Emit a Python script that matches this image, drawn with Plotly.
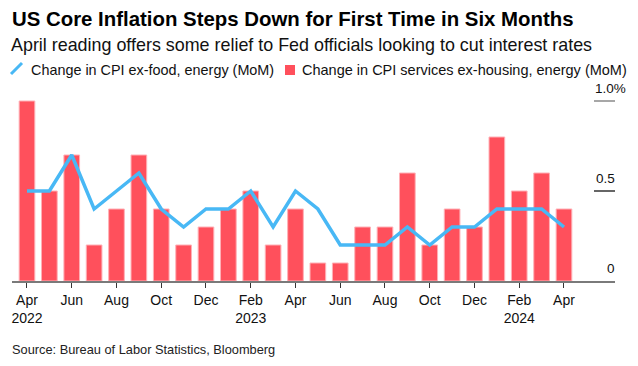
import plotly.graph_objects as go

# ---- data ----
months = ["2022-04", "2022-05", "2022-06", "2022-07", "2022-08", "2022-09", "2022-10",
          "2022-11", "2022-12", "2023-01", "2023-02", "2023-03", "2023-04", "2023-05",
          "2023-06", "2023-07", "2023-08", "2023-09", "2023-10", "2023-11", "2023-12",
          "2024-01", "2024-02", "2024-03", "2024-04"]
core_cpi_mom = [0.5, 0.5, 0.7, 0.4, 0.5, 0.6, 0.4, 0.3, 0.4, 0.4, 0.5, 0.3, 0.5, 0.4,
                0.2, 0.2, 0.2, 0.3, 0.2, 0.3, 0.3, 0.4, 0.4, 0.4, 0.3]
supercore_mom = [1.0, 0.5, 0.7, 0.2, 0.4, 0.7, 0.4, 0.2, 0.3, 0.4, 0.5, 0.2, 0.4, 0.1,
                 0.1, 0.3, 0.3, 0.6, 0.2, 0.4, 0.3, 0.8, 0.5, 0.6, 0.4]
tick_months = months[::2]
tick_labels = ["Apr<br>2022", "Jun", "Aug", "Oct", "Dec", "Feb<br>2023", "Apr", "Jun",
               "Aug", "Oct", "Dec", "Feb<br>2024", "Apr"]
y_ticks = [0, 0.5, 1.0]
y_tick_labels = ["0", "0.5", "1.0%"]
line_name = "Change in CPI ex-food, energy (MoM)"
bar_name = "Change in CPI services ex-housing, energy (MoM)"
title = "US Core Inflation Steps Down for First Time in Six Months"
subtitle = "April reading offers some relief to Fed officials looking to cut interest rates"
source = "Source: Bureau of Labor Statistics, Bloomberg"

# ---- style ----
W, H = 638, 366
L, R, T, B = 12, 23, 92, 85
PW, PH = W - L - R, H - T - B
RED = "#FF505C"
BLUE = "#48B8F5"
FONT = "Liberation Sans, Arial, sans-serif"


def px(x):
    return (x - L) / PW


def py(y):
    return (H - B - y) / PH


fig = go.Figure()
fig.add_trace(go.Bar(x=months, y=supercore_mom, name=bar_name, width=0.7,
                     marker=dict(color=RED, line=dict(color="#FFB0B6", width=1)),
                     showlegend=False))
fig.add_trace(go.Scatter(x=months, y=core_cpi_mom, name=line_name, mode="lines",
                         line=dict(color=BLUE, width=3.5), showlegend=False))

shapes = []
annotations = []
# short gridlines + right labels
for v, lab in zip(y_ticks, y_tick_labels):
    if v != 0:
        shapes.append(dict(type="line", xref="paper", yref="y", x0=px(594), x1=1.0, y0=v, y1=v,
                           line=dict(color="#333333" if v == 0.5 else "#8a8a8a", width=1.5)))
    annotations.append(dict(x=1.0, xref="paper", y=v, yref="y", text=lab, showarrow=False,
                            xanchor="right", yanchor="middle", yshift=12.5,
                            xshift=(13 if lab.endswith("%") else 2),
                            font=dict(size=13.5, color="#111111", family=FONT)))

# titles
annotations.append(dict(x=px(10), y=py(19), xref="paper", yref="paper", text="<b>" + title + "</b>",
                        showarrow=False, xanchor="left", yanchor="middle",
                        font=dict(size=20.4, color="#000000", family=FONT)))
annotations.append(dict(x=px(9), y=py(45), xref="paper", yref="paper", text=subtitle,
                        showarrow=False, xanchor="left", yanchor="middle",
                        font=dict(size=17.9, color="#111111", family=FONT)))
# legend
shapes.append(dict(type="line", xref="paper", yref="paper", x0=px(11), y0=py(74), x1=px(22), y1=py(63),
                   line=dict(color=BLUE, width=3)))
annotations.append(dict(x=px(29), y=py(69.5), xref="paper", yref="paper", text=line_name,
                        showarrow=False, xanchor="left", yanchor="middle",
                        font=dict(size=14.4, color="#111111", family=FONT)))
shapes.append(dict(type="rect", xref="paper", yref="paper", x0=px(285), y0=py(75), x1=px(295), y1=py(65),
                   fillcolor=RED, line=dict(width=0)))
annotations.append(dict(x=px(300), y=py(69.5), xref="paper", yref="paper", text=bar_name,
                        showarrow=False, xanchor="left", yanchor="middle",
                        font=dict(size=14.5, color="#111111", family=FONT)))
# source
annotations.append(dict(x=px(10), y=py(349), xref="paper", yref="paper", text=source,
                        showarrow=False, xanchor="left", yanchor="middle",
                        font=dict(size=12.8, color="#222222", family=FONT)))

fig.update_layout(
    width=W, height=H, margin=dict(l=L, r=R, t=T, b=B),
    paper_bgcolor="white", plot_bgcolor="white",
    shapes=shapes, annotations=annotations, showlegend=False,
    font=dict(family=FONT, size=13.5, color="#111111"),
)
fig.update_xaxes(type="category", range=[-0.67, 26.28], tickmode="array",
                 tickvals=tick_months, ticktext=tick_labels, ticks="outside", ticklen=5,
                 tickcolor="#333333", tickwidth=1, showline=True, linecolor="#7a7a7a", linewidth=2,
                 showgrid=False, zeroline=False, tickfont=dict(size=14, color="#111111", family=FONT))
fig.update_yaxes(range=[0, 1.05], visible=False, showgrid=False, zeroline=False)

fig.write_html("out.html", config={"displayModeBar": False},
               post_script="document.body.style.margin='0';")
